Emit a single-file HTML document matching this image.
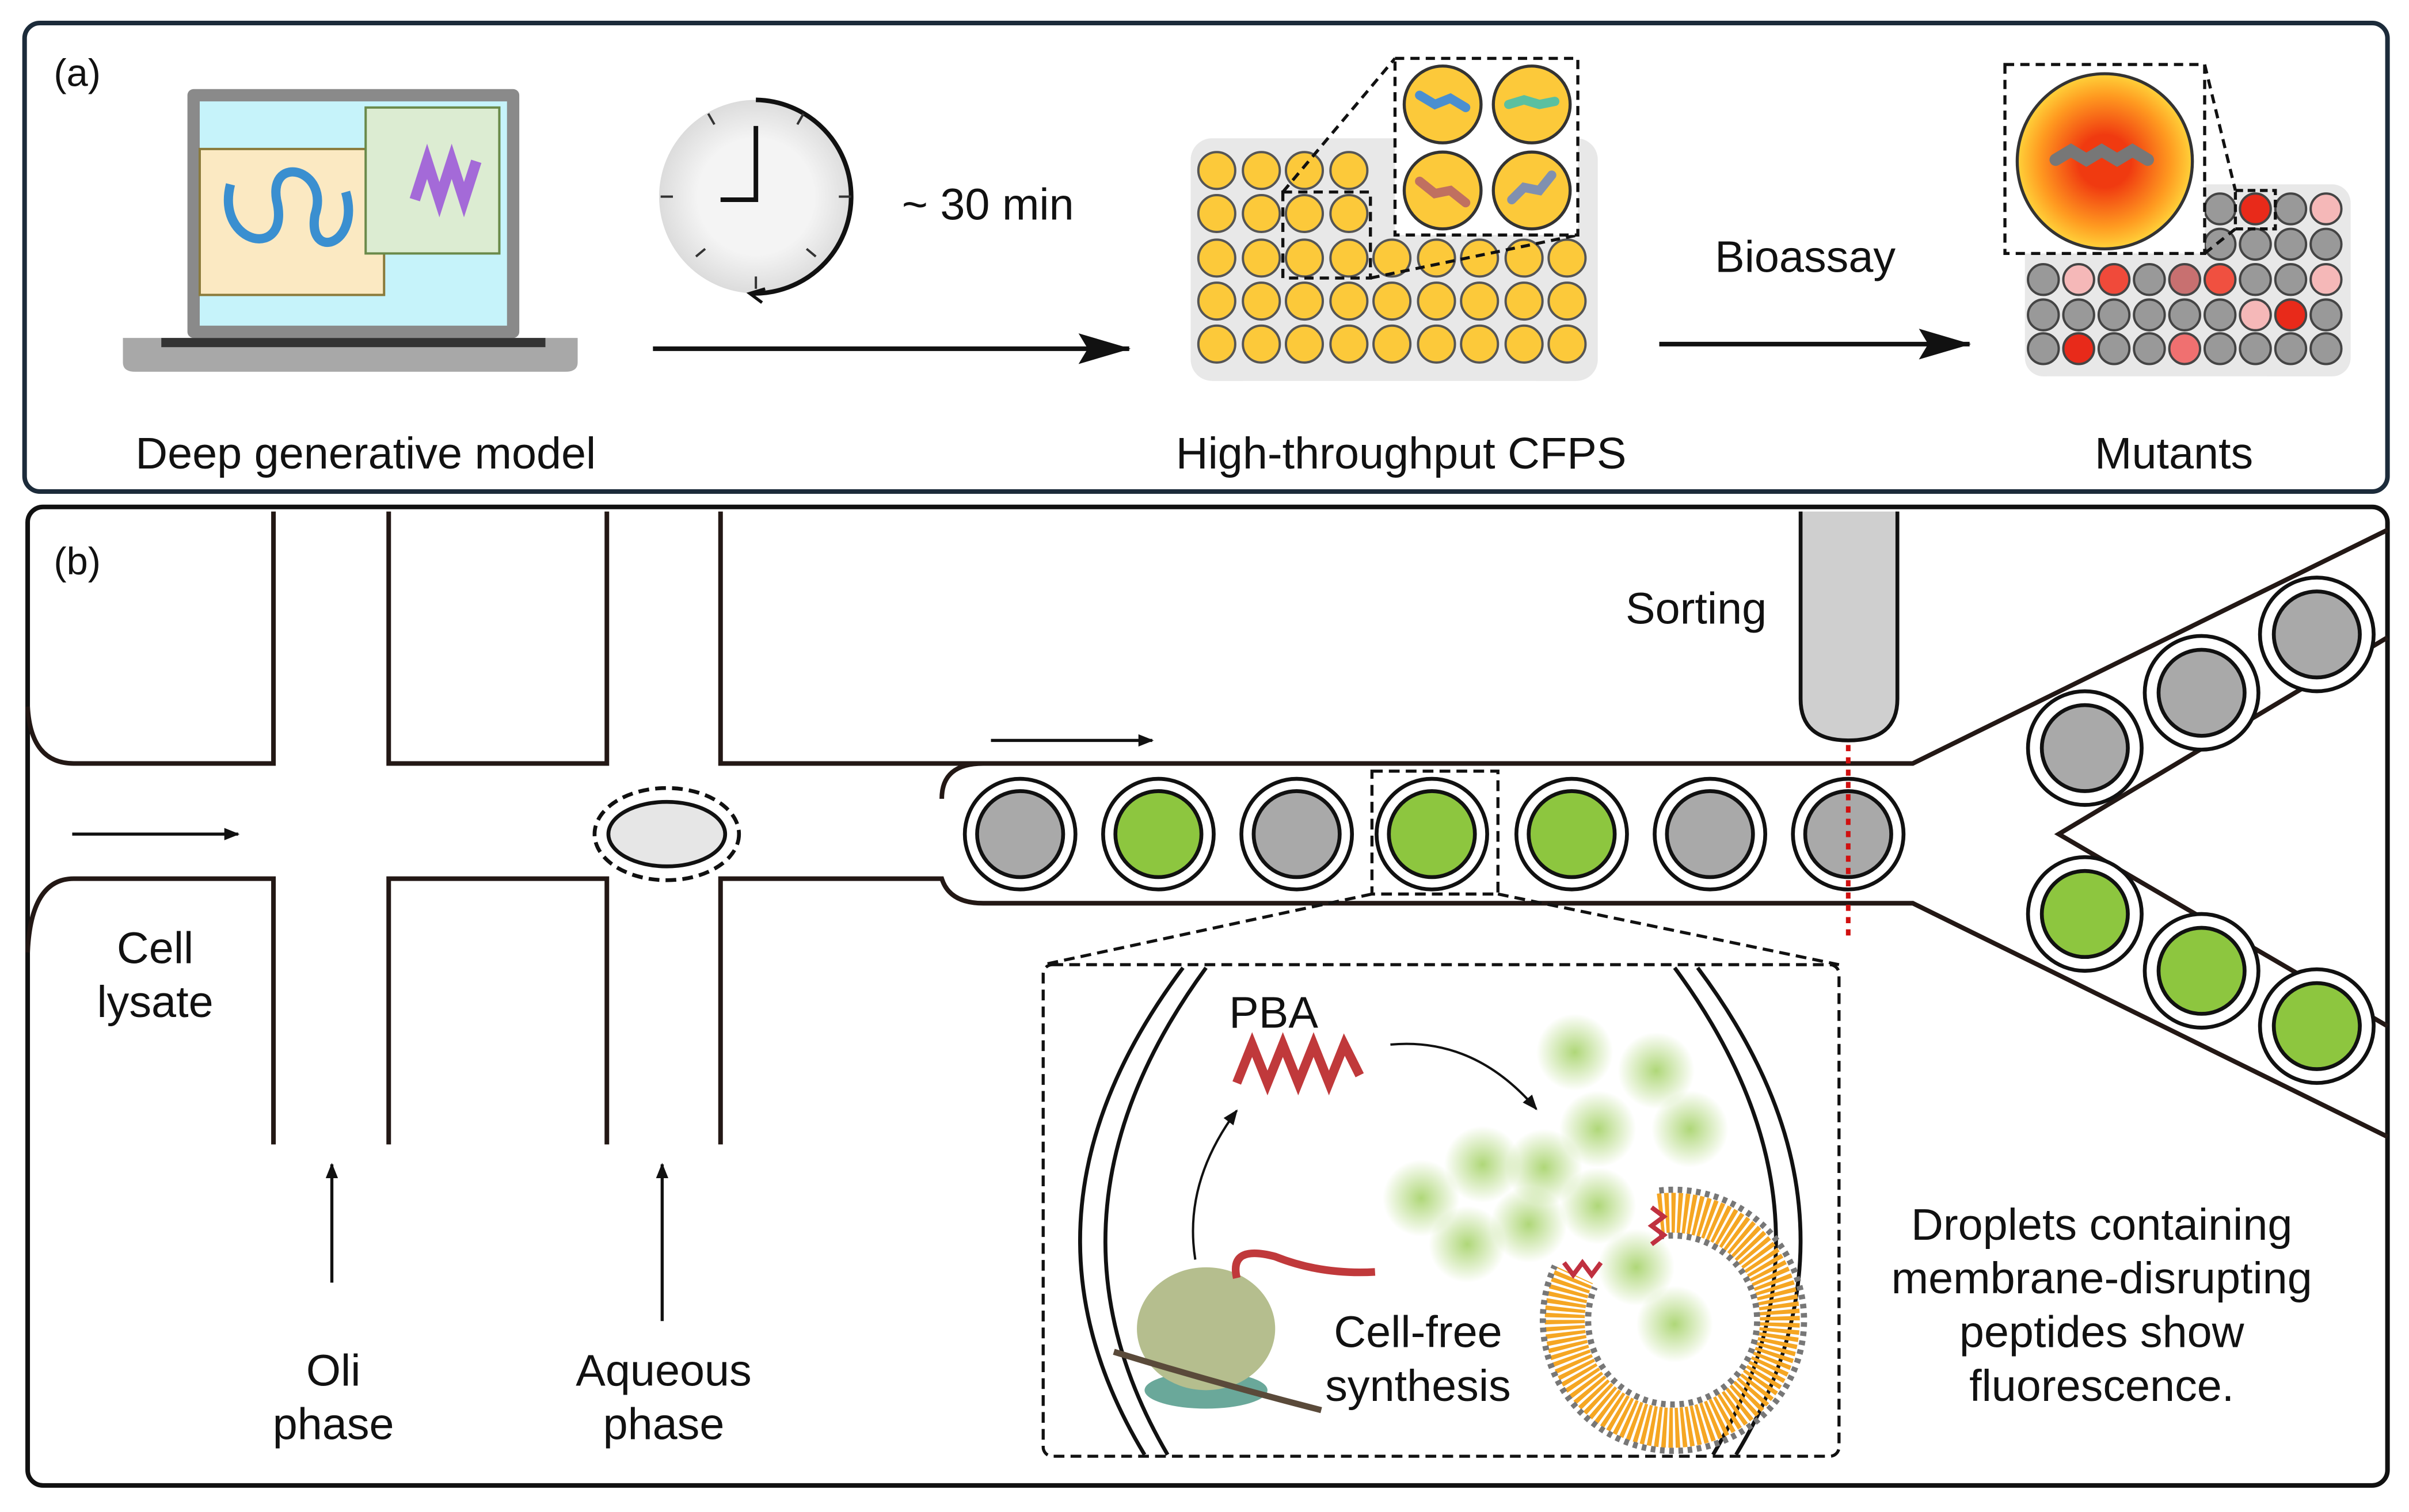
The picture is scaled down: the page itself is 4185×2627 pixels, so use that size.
<!DOCTYPE html>
<html><head><meta charset="utf-8"><style>
html,body{margin:0;padding:0;background:#fff;}
svg{display:block;}
text{font-family:"Liberation Sans",sans-serif;fill:#111;}
</style></head><body>
<svg width="4185" height="2627" viewBox="0 0 1568 984.3" preserveAspectRatio="none" xmlns="http://www.w3.org/2000/svg">
<defs>
<marker id="ah" markerWidth="10" markerHeight="8" refX="9" refY="4" orient="auto" markerUnits="userSpaceOnUse"><path d="M0,0 L10,4 L0,8 Z" fill="#111"/></marker>
<marker id="ahb" markerWidth="34" markerHeight="20" refX="33" refY="10" orient="auto" markerUnits="userSpaceOnUse"><path d="M0,0 L34,10 L0,20 L6,10 Z" fill="#111"/></marker>
<radialGradient id="org"><stop offset="0.3" stop-color="#f03a10"/><stop offset="0.75" stop-color="#ff9a20"/><stop offset="1" stop-color="#ffd23a"/></radialGradient>
<radialGradient id="glow"><stop offset="0" stop-color="#8dc63f" stop-opacity="0.7"/><stop offset="1" stop-color="#8dc63f" stop-opacity="0"/></radialGradient>
<radialGradient id="clk"><stop offset="0.6" stop-color="#f4f4f4"/><stop offset="1" stop-color="#dcdcdc"/></radialGradient>
</defs>
<rect width="1568" height="984.3" fill="#fff"/>
<!-- Panel a -->
<rect x="16" y="15" width="1538" height="305" rx="10" fill="none" stroke="#1c2b3a" stroke-width="3"/>
<text x="35" y="56" font-size="25">(a)</text>
<!-- laptop -->
<rect x="122" y="58" width="216" height="162" rx="4" fill="#8a8a8a"/>
<rect x="130" y="66" width="200" height="146" fill="#c6f3fa"/>
<rect x="130" y="97" width="120" height="95" fill="#fbe9c2" stroke="#8a7a3a" stroke-width="1.5"/>
<rect x="238" y="70" width="87" height="95" fill="#dcecd2" stroke="#6a8a4a" stroke-width="1.5"/>
<path d="M150,120 C140,160 190,170 180,130 C175,100 215,110 205,140 C200,170 235,160 225,125" fill="none" stroke="#3a8fd0" stroke-width="6"/>
<path d="M270,130 l8,-25 l8,25 l8,-25 l8,25 l8,-25" fill="none" stroke="#a46ad8" stroke-width="7"/>
<path d="M80,220 L376,220 L376,236 Q376,242 368,242 L88,242 Q80,242 80,236 Z" fill="#a8a8a8"/>
<rect x="105" y="220" width="250" height="6" fill="#333"/>
<!-- clock -->
<circle cx="492" cy="128" r="63" fill="url(#clk)"/>
<path d="M492,65 A63,63 0 1 1 490,191" fill="none" stroke="#111" stroke-width="3"/>
<path d="M492,82 L492,130 L469,130" fill="none" stroke="#111" stroke-width="3"/>
<path d="M498,188 l-10,3 l8,6" fill="none" stroke="#111" stroke-width="2"/>
<g stroke="#333" stroke-width="1.5"><line x1="430" y1="128" x2="438" y2="128"/><line x1="546" y1="128" x2="554" y2="128"/><line x1="492" y1="180" x2="492" y2="188"/><line x1="461" y1="74" x2="465" y2="81"/><line x1="523" y1="74" x2="519" y2="81"/><line x1="453" y1="167" x2="459" y2="162"/><line x1="531" y1="167" x2="525" y2="162"/></g>
<text x="587" y="143" font-size="29">~ 30 min</text>
<line x1="425" y1="227" x2="735" y2="227" stroke="#111" stroke-width="3" marker-end="url(#ahb)"/>
<!-- plate -->
<rect x="775" y="90" width="265" height="158" rx="14" fill="#e8e8e8"/>
<g fill="#fcc93a" stroke="#555" stroke-width="1.5">
<circle cx="792" cy="111" r="12"/><circle cx="821" cy="111" r="12"/><circle cx="849" cy="111" r="12"/><circle cx="878" cy="111" r="12"/>
<circle cx="792" cy="139" r="12"/><circle cx="821" cy="139" r="12"/><circle cx="849" cy="139" r="12"/><circle cx="878" cy="139" r="12"/>
<circle cx="792" cy="168" r="12"/><circle cx="821" cy="168" r="12"/><circle cx="849" cy="168" r="12"/><circle cx="878" cy="168" r="12"/><circle cx="906" cy="168" r="12"/><circle cx="935" cy="168" r="12"/><circle cx="963" cy="168" r="12"/><circle cx="992" cy="168" r="12"/><circle cx="1020" cy="168" r="12"/>
<circle cx="792" cy="196" r="12"/><circle cx="821" cy="196" r="12"/><circle cx="849" cy="196" r="12"/><circle cx="878" cy="196" r="12"/><circle cx="906" cy="196" r="12"/><circle cx="935" cy="196" r="12"/><circle cx="963" cy="196" r="12"/><circle cx="992" cy="196" r="12"/><circle cx="1020" cy="196" r="12"/>
<circle cx="792" cy="224" r="12"/><circle cx="821" cy="224" r="12"/><circle cx="849" cy="224" r="12"/><circle cx="878" cy="224" r="12"/><circle cx="906" cy="224" r="12"/><circle cx="935" cy="224" r="12"/><circle cx="963" cy="224" r="12"/><circle cx="992" cy="224" r="12"/><circle cx="1020" cy="224" r="12"/>
</g>
<rect x="835" y="125" width="57" height="56" fill="none" stroke="#111" stroke-width="2" stroke-dasharray="6,4"/>
<line x1="835" y1="125" x2="908" y2="38" stroke="#111" stroke-width="2" stroke-dasharray="6,4"/>
<line x1="892" y1="181" x2="1027" y2="153" stroke="#111" stroke-width="2" stroke-dasharray="6,4"/>
<rect x="908" y="38" width="119" height="115" fill="#fff" stroke="#111" stroke-width="2" stroke-dasharray="6,4"/>
<g fill="#fcc93a" stroke="#333" stroke-width="2">
<circle cx="939" cy="68" r="25"/><circle cx="997" cy="68" r="25"/><circle cx="939" cy="124" r="25"/><circle cx="997" cy="124" r="25"/></g>
<g fill="none" stroke-width="6" stroke-linecap="round">
<path d="M924,62 l10,6 l10,-4 l10,6" stroke="#4a8fd0"/><path d="M982,68 l10,-3 l10,3 l10,-2" stroke="#5ac0a0"/>
<path d="M924,118 l10,8 l10,-2 l10,8" stroke="#c07060"/><path d="M984,130 l8,-8 l10,2 l8,-10" stroke="#8090b0"/></g>
<text x="912" y="305" font-size="29" text-anchor="middle">High-throughput CFPS</text>
<text x="1175" y="177" font-size="29" text-anchor="middle">Bioassay</text>
<line x1="1080" y1="224" x2="1282" y2="224" stroke="#111" stroke-width="3" marker-end="url(#ahb)"/>
<!-- mutants plate -->
<rect x="1318" y="120" width="212" height="125" rx="12" fill="#e8e8e8"/>
<g stroke="#444" stroke-width="1.5">
<circle cx="1445" cy="136" r="10" fill="#999"/><circle cx="1468" cy="136" r="10" fill="#e82a1a"/><circle cx="1491" cy="136" r="10" fill="#999"/><circle cx="1514" cy="136" r="10" fill="#f5b8b8"/>
<circle cx="1445" cy="159" r="10" fill="#999"/><circle cx="1468" cy="159" r="10" fill="#999"/><circle cx="1491" cy="159" r="10" fill="#999"/><circle cx="1514" cy="159" r="10" fill="#999"/>
<circle cx="1330" cy="182" r="10" fill="#999"/><circle cx="1353" cy="182" r="10" fill="#f5b8b8"/><circle cx="1376" cy="182" r="10" fill="#f04a3a"/><circle cx="1399" cy="182" r="10" fill="#999"/><circle cx="1422" cy="182" r="10" fill="#c87070"/><circle cx="1445" cy="182" r="10" fill="#f05040"/><circle cx="1468" cy="182" r="10" fill="#999"/><circle cx="1491" cy="182" r="10" fill="#999"/><circle cx="1514" cy="182" r="10" fill="#f5b8b8"/>
<circle cx="1330" cy="205" r="10" fill="#999"/><circle cx="1353" cy="205" r="10" fill="#999"/><circle cx="1376" cy="205" r="10" fill="#999"/><circle cx="1399" cy="205" r="10" fill="#999"/><circle cx="1422" cy="205" r="10" fill="#999"/><circle cx="1445" cy="205" r="10" fill="#999"/><circle cx="1468" cy="205" r="10" fill="#f5b8b8"/><circle cx="1491" cy="205" r="10" fill="#e82a1a"/><circle cx="1514" cy="205" r="10" fill="#999"/>
<circle cx="1330" cy="227" r="10" fill="#999"/><circle cx="1353" cy="227" r="10" fill="#e82a1a"/><circle cx="1376" cy="227" r="10" fill="#999"/><circle cx="1399" cy="227" r="10" fill="#999"/><circle cx="1422" cy="227" r="10" fill="#f07070"/><circle cx="1445" cy="227" r="10" fill="#999"/><circle cx="1468" cy="227" r="10" fill="#999"/><circle cx="1491" cy="227" r="10" fill="#999"/><circle cx="1514" cy="227" r="10" fill="#999"/>
</g>
<rect x="1455" y="124" width="26" height="25" fill="none" stroke="#111" stroke-width="2" stroke-dasharray="5,3"/>
<line x1="1435" y1="42" x2="1455" y2="124" stroke="#111" stroke-width="2" stroke-dasharray="6,4"/>
<line x1="1435" y1="165" x2="1455" y2="149" stroke="#111" stroke-width="2" stroke-dasharray="6,4"/>
<rect x="1305" y="42" width="130" height="123" fill="#fff" stroke="#111" stroke-width="2" stroke-dasharray="6,4"/>
<circle cx="1370" cy="105" r="57" fill="url(#org)" stroke="#333" stroke-width="2"/>
<path d="M1338,104 l10,-6 l10,6 l10,-6 l10,6 l10,-6 l10,6" fill="none" stroke="#777" stroke-width="8" stroke-linecap="round"/>
<text x="1415" y="305" font-size="29" text-anchor="middle">Mutants</text>
<text x="238" y="305" font-size="29" text-anchor="middle">Deep generative model</text>

<!-- Panel b -->
<rect x="18" y="330" width="1536" height="637" rx="10" fill="none" stroke="#111" stroke-width="3"/>
<text x="35" y="374" font-size="25">(b)</text>
<g fill="none" stroke="#231815" stroke-width="3">
<path d="M18,460 Q20,497 48,497 L178,497 L178,333"/>
<path d="M253,333 L253,497 L395,497 L395,333"/>
<path d="M469,333 L469,497 L1245,497 L1554,345"/>
<path d="M18,620 Q20,572 48,572 L178,572 L178,745"/>
<path d="M253,745 L253,572 L395,572 L395,745"/>
<path d="M469,745 L469,572 L613,572 Q618,588 640,588 L1245,588 L1554,740"/>
<path d="M1554,415 L1340,543 L1554,668"/>
<path d="M640,497 Q613,497 613,520"/>
</g>
<line x1="47" y1="543" x2="155" y2="543" stroke="#111" stroke-width="2" marker-end="url(#ah)"/>
<line x1="645" y1="482" x2="750" y2="482" stroke="#111" stroke-width="2" marker-end="url(#ah)"/>
<ellipse cx="434" cy="543" rx="47" ry="30" fill="none" stroke="#111" stroke-width="2.5" stroke-dasharray="7,4"/>
<ellipse cx="434" cy="543" rx="38" ry="21" fill="#e6e6e6" stroke="#111" stroke-width="2.5"/>
<g stroke="#111" stroke-width="2.5">
<circle cx="664" cy="543" r="36" fill="#fff"/><circle cx="664" cy="543" r="28" fill="#a9a9a9"/>
<circle cx="754" cy="543" r="36" fill="#fff"/><circle cx="754" cy="543" r="28" fill="#8dc63f"/>
<circle cx="844" cy="543" r="36" fill="#fff"/><circle cx="844" cy="543" r="28" fill="#a9a9a9"/>
<circle cx="932" cy="543" r="36" fill="#fff"/><circle cx="932" cy="543" r="28" fill="#8dc63f"/>
<circle cx="1023" cy="543" r="36" fill="#fff"/><circle cx="1023" cy="543" r="28" fill="#8dc63f"/>
<circle cx="1113" cy="543" r="36" fill="#fff"/><circle cx="1113" cy="543" r="28" fill="#a9a9a9"/>
<circle cx="1203" cy="543" r="36" fill="#fff"/><circle cx="1203" cy="543" r="28" fill="#a9a9a9"/>
<circle cx="1357" cy="487" r="37" fill="#fff"/><circle cx="1357" cy="487" r="28" fill="#a9a9a9"/>
<circle cx="1433" cy="451" r="37" fill="#fff"/><circle cx="1433" cy="451" r="28" fill="#a9a9a9"/>
<circle cx="1508" cy="413" r="37" fill="#fff"/><circle cx="1508" cy="413" r="28" fill="#a9a9a9"/>
<circle cx="1357" cy="595" r="37" fill="#fff"/><circle cx="1357" cy="595" r="28" fill="#8dc63f"/>
<circle cx="1433" cy="632" r="37" fill="#fff"/><circle cx="1433" cy="632" r="28" fill="#8dc63f"/>
<circle cx="1508" cy="668" r="37" fill="#fff"/><circle cx="1508" cy="668" r="28" fill="#8dc63f"/>
</g>
<rect x="893" y="502" width="82" height="80" fill="none" stroke="#111" stroke-width="2" stroke-dasharray="7,4"/>
<path d="M1172,333 L1172,455 Q1172,482 1203,482 Q1235,482 1235,455 L1235,333" fill="#cfcfcf" stroke="#111" stroke-width="2.5"/>
<text x="1104" y="406" font-size="29" text-anchor="middle">Sorting</text>
<line x1="1203" y1="485" x2="1203" y2="612" stroke="#d01010" stroke-width="3" stroke-dasharray="4,4"/>
<text x="101" y="627" font-size="29" text-anchor="middle">Cell</text>
<text x="101" y="662" font-size="29" text-anchor="middle">lysate</text>
<line x1="216" y1="835" x2="216" y2="758" stroke="#111" stroke-width="2" marker-end="url(#ah)"/>
<line x1="431" y1="860" x2="431" y2="758" stroke="#111" stroke-width="2" marker-end="url(#ah)"/>
<text x="217" y="902" font-size="29" text-anchor="middle">Oli</text>
<text x="217" y="937" font-size="29" text-anchor="middle">phase</text>
<text x="432" y="902" font-size="29" text-anchor="middle">Aqueous</text>
<text x="432" y="937" font-size="29" text-anchor="middle">phase</text>
<!-- inset -->
<line x1="893" y1="582" x2="679" y2="628" stroke="#111" stroke-width="2" stroke-dasharray="7,4"/>
<line x1="975" y1="582" x2="1197" y2="628" stroke="#111" stroke-width="2" stroke-dasharray="7,4"/>
<rect x="679" y="628" width="518" height="320" rx="6" fill="#fff" stroke="#111" stroke-width="2" stroke-dasharray="7,4"/>
<g fill="none" stroke="#111" stroke-width="2.5">
<path d="M770,630 Q650,790 745,947"/><path d="M785,630 Q668,790 760,947"/>
<path d="M1105,630 Q1225,790 1130,947"/><path d="M1090,630 Q1208,790 1115,947"/>
</g>
<g>
<circle cx="1025" cy="685" r="25" fill="url(#glow)"/><circle cx="1078" cy="697" r="25" fill="url(#glow)"/><circle cx="1040" cy="735" r="25" fill="url(#glow)"/><circle cx="1100" cy="735" r="25" fill="url(#glow)"/><circle cx="965" cy="758" r="25" fill="url(#glow)"/><circle cx="1005" cy="760" r="25" fill="url(#glow)"/><circle cx="925" cy="780" r="25" fill="url(#glow)"/><circle cx="995" cy="797" r="25" fill="url(#glow)"/><circle cx="1040" cy="785" r="25" fill="url(#glow)"/><circle cx="955" cy="810" r="25" fill="url(#glow)"/><circle cx="1065" cy="825" r="25" fill="url(#glow)"/><circle cx="1090" cy="862" r="25" fill="url(#glow)"/>
</g>
<!-- vesicle -->
<path d="M1080,790 A70,70 0 1 1 1025,830" fill="none" stroke="#f5a623" stroke-width="26" stroke-dasharray="2.5,1.5"/>
<path d="M1080,775 A85,85 0 1 1 1012,824" fill="none" stroke="#777" stroke-width="4" stroke-dasharray="3,3"/>
<path d="M1080,805 A55,55 0 1 1 1038,838" fill="none" stroke="#777" stroke-width="4" stroke-dasharray="3,3"/>
<path d="M1075,810 l8,-6 l-8,-6 l8,-6 l-8,-6" fill="none" stroke="#c03040" stroke-width="3"/>
<path d="M1018,822 l6,8 l6,-8 l6,8 l6,-8" fill="none" stroke="#c03040" stroke-width="3"/>
<text x="829" y="669" font-size="29" text-anchor="middle">PBA</text>
<path d="M805,705 l10,-25 l10,25 l10,-25 l10,25 l10,-25 l10,25 l10,-25 l10,20" fill="none" stroke="#c0393b" stroke-width="6"/>
<path d="M905,680 Q960,675 1000,722" fill="none" stroke="#111" stroke-width="1.5" marker-end="url(#ah)"/>
<path d="M778,820 Q770,770 805,723" fill="none" stroke="#111" stroke-width="1.5" marker-end="url(#ah)"/>
<ellipse cx="785" cy="905" rx="40" ry="12" fill="#6aa89a"/>
<ellipse cx="785" cy="865" rx="45" ry="40" fill="#b5be8e"/>
<path d="M725,880 Q790,900 860,918" fill="none" stroke="#5a4a3a" stroke-width="4"/>
<path d="M805,832 Q800,810 830,818 Q860,830 895,828" fill="none" stroke="#c0393b" stroke-width="5"/>
<text x="923" y="877" font-size="29" text-anchor="middle">Cell-free</text>
<text x="923" y="912" font-size="29" text-anchor="middle">synthesis</text>
<text x="1368" y="807" font-size="29" text-anchor="middle">Droplets containing</text>
<text x="1368" y="842" font-size="29" text-anchor="middle">membrane-disrupting</text>
<text x="1368" y="877" font-size="29" text-anchor="middle">peptides show</text>
<text x="1368" y="912" font-size="29" text-anchor="middle">fluorescence.</text>
</svg>
</body></html>
